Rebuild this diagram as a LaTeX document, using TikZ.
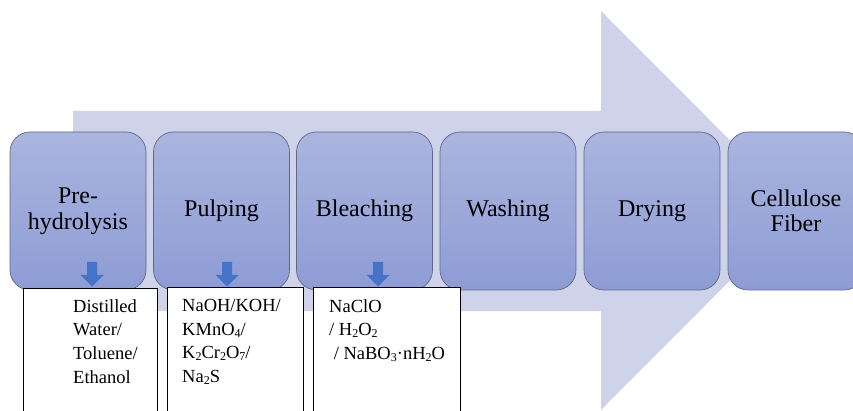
\documentclass[tikz,border=0pt]{standalone}
\usepackage{fontspec}
\setmainfont{Liberation Serif}
\definecolor{bigarrow}{RGB}{206,211,233}
\definecolor{boxtop}{RGB}{170,181,223}
\definecolor{boxbot}{RGB}{141,156,212}
\definecolor{boxline}{RGB}{95,104,135}
\definecolor{smallarrow}{RGB}{70,115,200}
\newcommand{\chsub}[1]{\raisebox{-0.25ex}{\fontsize{12}{12}\selectfont #1}}
\begin{document}
\begin{tikzpicture}[x=1pt,y=-1pt,
  stage/.style={draw=boxline, line width=0.7pt, rounded corners=20pt,
    top color=boxtop, bottom color=boxbot, minimum width=136pt,
    minimum height=158pt, inner sep=0pt},
  stagelabel/.style={align=center, inner sep=0pt,
    font=\fontsize{24}{25.5}\selectfont},
  chembox/.style={draw=black, line width=0.8pt, fill=white, anchor=north west,
    minimum height=140pt, inner sep=0pt},
  chemtext/.style={anchor=north west, align=left, inner sep=0pt,
    font=\fontsize{18.5}{23.7}\selectfont},
  downarrow/.style={fill=smallarrow, draw=none}]
\useasboundingbox (0,0) rectangle (853,411);
\clip (0,0) rectangle (853,411);
% big background arrow
\fill[bigarrow] (73,111) -- (601,111) -- (601,11) -- (800,210.5) -- (601,410)
  -- (601,311) -- (73,311) -- cycle;
% stages
\node[stage] (s1) at (78,211) {};
\node[stage] (s2) at (221.5,211) {};
\node[stage] (s3) at (364.5,211) {};
\node[stage] (s4) at (508,211) {};
\node[stage] (s5) at (652,211) {};
\node[stage] (s6) at (796,211) {};
\node[stagelabel] (l1) at (s1.center) {Pre-\\hydrolysis};
\node[stagelabel] (l2) at (s2.center) {Pulping};
\node[stagelabel] (l3) at (s3.center) {Bleaching};
\node[stagelabel] (l4) at (s4.center) {Washing};
\node[stagelabel] (l5) at (s5.center) {Drying};
\node[stagelabel] (l6) at (s6.center) {Cellulose\\Fiber};
% chemical boxes
\node[chembox, minimum width=134pt] (c1) at (23,288) {};
\node[chembox, minimum width=136pt] (c2) at (167,287) {};
\node[chembox, minimum width=147pt] (c3) at (313,287) {};
\node[chemtext] (t1) at ([xshift=50pt,yshift=-11pt]c1.north west)
  {Distilled\\Water/\\Toluene/\\Ethanol};
\node[chemtext] (t2) at ([xshift=15pt,yshift=-12pt]c2.north west)
  {NaOH/KOH/\\KMnO\chsub{4}/\\K\chsub{2}Cr\chsub{2}O\chsub{7}/\\Na\chsub{2}S};
\node[chemtext] (t3) at ([xshift=16pt,yshift=-12pt]c3.north west)
  {NaClO\\/ H\chsub{2}O\chsub{2}\\\ / NaBO\chsub{3}·nH\chsub{2}O};
% small down arrows
\foreach \cx/\n in {92/a1,227/a2,378/a3}{
  \fill[downarrow] (\cx-5,262) -- (\cx+5,262) -- (\cx+5,275) -- (\cx+11.5,275)
    -- (\cx,286.5) -- (\cx-11.5,275) -- (\cx-5,275) -- cycle;
}
\end{tikzpicture}
\end{document}
